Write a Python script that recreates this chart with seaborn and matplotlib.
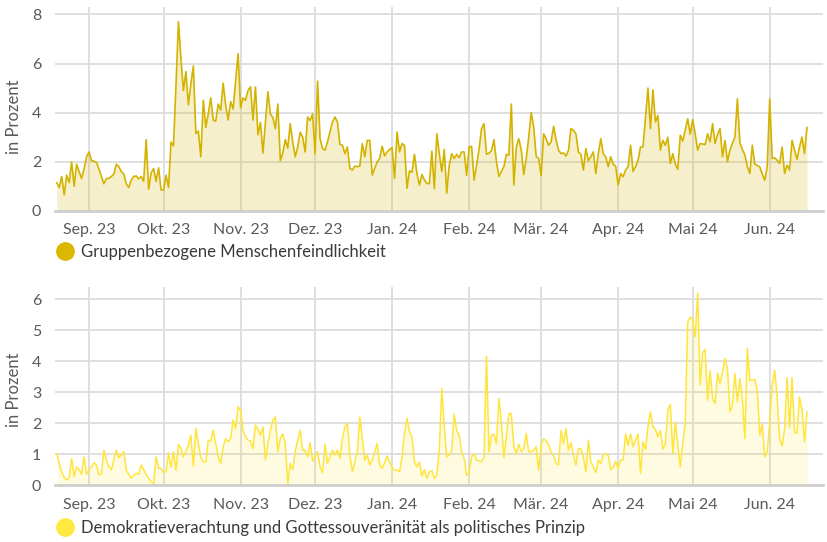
import matplotlib
matplotlib.use("Agg")
import matplotlib.pyplot as plt
from matplotlib.lines import Line2D
import seaborn as sns
import pandas as pd

# daily shares in percent, starting 19.08.2023
start_date = "2023-08-19"

gmf_values = [
    1.15, 0.95, 1.4, 0.65, 1.45, 1.15, 2.0, 1.0, 1.9, 1.6,
    1.32, 1.7, 2.2, 2.4, 2.05, 2.02, 1.97, 1.7, 1.4, 1.1,
    1.32, 1.32, 1.4, 1.5, 1.9, 1.8, 1.6, 1.5, 1.1, 0.95,
    1.25, 1.4, 1.42, 1.3, 1.4, 1.2, 2.9, 0.88, 1.55, 1.72,
    1.2, 1.75, 0.85, 0.85, 1.45, 0.95, 2.8, 2.65, 5.1, 7.7,
    6.2, 4.9, 5.67, 4.32, 5.17, 5.9, 3.14, 3.25, 2.2, 4.5,
    3.4, 3.95, 4.6, 3.7, 3.65, 4.35, 4.1, 5.2, 4.3, 3.7,
    4.45, 4.15, 5.3, 6.4, 4.2, 4.6, 4.5, 4.9, 5.05, 3.7,
    5.05, 3.1, 3.6, 2.35, 3.6, 4.85, 3.95, 3.8, 3.35, 4.35,
    2.05, 2.35, 2.9, 2.55, 3.55, 2.8, 2.2, 2.6, 3.2, 3.0,
    2.4, 3.82, 3.68, 3.95, 2.33, 5.28, 2.94, 2.54, 2.47, 2.81,
    3.21, 3.62, 3.82, 3.62, 2.71, 2.67, 2.33, 2.6, 1.73, 1.66,
    1.82, 1.8, 1.82, 2.74, 2.2, 2.87, 2.87, 1.46, 1.73, 2.0,
    2.13, 2.63, 2.24, 2.4, 2.5, 2.58, 1.32, 3.21, 2.4, 2.74,
    2.67, 0.92, 1.63, 1.57, 2.3, 1.52, 1.05, 1.48, 1.26, 1.12,
    1.1, 2.43, 0.9, 3.14, 2.33, 1.6, 2.5, 0.72, 1.86, 2.33,
    2.13, 2.3, 2.16, 2.4, 2.4, 1.45, 2.6, 2.63, 1.25, 1.85,
    2.5, 3.35, 3.55, 2.3, 2.35, 2.45, 2.9, 2.0, 1.4, 1.6,
    1.8, 2.3, 2.27, 4.35, 1.05, 2.6, 2.94, 2.47, 1.48, 2.13,
    3.0, 4.0, 3.41, 2.22, 2.13, 1.43, 3.14, 2.94, 2.67, 2.81,
    3.44, 2.9, 2.47, 2.33, 2.36, 2.23, 2.47, 3.35, 3.28, 3.14,
    2.4, 2.3, 1.66, 2.54, 2.04, 2.2, 2.4, 1.52, 2.33, 2.94,
    2.33, 2.2, 1.8, 2.2, 1.9, 1.82, 1.05, 1.52, 1.39, 1.66,
    1.8, 2.67, 1.6, 1.8, 2.06, 2.6, 2.6, 3.82, 5.0, 3.35,
    4.93, 3.62, 3.89, 2.47, 2.87, 2.67, 3.0, 1.93, 2.33, 1.9,
    1.69, 3.08, 2.84, 3.3, 3.75, 3.12, 3.72, 3.14, 2.47, 2.74,
    2.72, 2.7, 3.14, 2.81, 3.55, 2.74, 3.1, 3.35, 2.2, 2.87,
    2.0, 2.47, 2.75, 3.0, 4.56, 2.77, 2.5, 2.27, 1.8, 1.52,
    2.67, 1.9, 1.85, 1.79, 1.5, 1.25, 1.79, 4.56, 2.13, 2.16,
    2.06, 1.93, 2.6, 1.52, 1.86, 1.66, 2.87, 2.47, 2.1, 2.6,
    3.0, 2.33, 3.4,
]

demo_values = [
    1.02, 0.7, 0.43, 0.25, 0.16, 0.25, 0.86, 0.27, 0.59, 0.5,
    0.35, 0.91, 0.35, 0.48, 0.59, 0.72, 0.65, 0.32, 0.38, 1.13,
    0.81, 0.59, 0.5, 0.81, 1.13, 0.89, 0.97, 1.08, 0.48, 0.35,
    0.22, 0.32, 0.38, 0.35, 0.65, 0.5, 0.35, 0.22, 0.11, 0.05,
    0.91, 0.54, 0.54, 0.41, 0.43, 1.04, 0.57, 1.08, 0.48, 1.32,
    1.18, 0.91, 1.11, 1.29, 1.61, 0.61, 1.83, 1.34, 0.91, 0.75,
    0.75, 1.45, 1.43, 1.77, 1.34, 0.91, 0.7, 1.24, 1.5, 1.4,
    1.5, 2.1, 1.83, 2.53, 2.42, 1.77, 1.56, 1.45, 1.43, 1.18,
    1.94, 1.8, 1.61, 1.88, 0.81, 1.34, 1.77, 2.1, 2.2, 1.08,
    1.5, 1.65, 1.35, 0.05, 0.7, 0.5, 1.08, 1.45, 1.77, 1.13,
    1.13, 0.91, 1.37, 0.78, 0.91, 1.08, 0.59, 0.4, 1.32, 0.7,
    0.91, 1.13, 0.97, 1.13, 0.86, 1.5, 1.88, 1.99, 0.97, 0.43,
    0.75, 1.08, 2.2, 1.5, 0.81, 0.97, 0.65, 0.81, 1.08, 1.34,
    0.65, 0.54, 0.72, 0.94, 0.75, 0.57, 0.48, 0.48, 0.43, 0.9,
    1.67, 2.15, 1.72, 1.56, 0.75, 0.59, 0.75, 0.29, 0.5, 0.22,
    0.43, 0.46, 0.22, 0.32, 1.13, 3.12, 1.88, 0.91, 0.97, 1.13,
    2.29, 1.77, 1.61, 1.08, 0.86, 0.32, 0.4, 0.91, 1.02, 0.81,
    0.78, 0.75, 0.91, 4.16, 1.08, 1.61, 1.65, 1.34, 2.8, 2.04,
    0.88, 1.56, 2.31, 2.31, 1.26, 1.02, 1.32, 1.08, 1.18, 1.67,
    1.08, 1.08, 1.13, 1.24, 0.48, 1.3, 1.5, 1.43, 1.29, 1.08,
    0.94, 0.7, 0.65, 1.77, 1.34, 1.83, 1.13, 1.37, 0.97, 0.65,
    1.18, 1.18, 0.91, 0.43, 1.45, 0.75, 0.59, 0.4, 0.81, 0.7,
    1.0, 1.0, 0.97, 0.5, 0.57, 0.78, 0.54, 0.81, 0.81, 1.65,
    1.29, 1.65, 1.24, 1.45, 1.65, 0.38, 1.4, 1.15, 1.88, 2.37,
    1.88, 1.8, 1.56, 1.77, 1.16, 1.34, 2.42, 2.61, 1.02, 2.04,
    1.3, 0.59, 1.34, 2.0, 5.27, 5.43, 5.34, 4.78, 6.2, 3.23,
    4.27, 4.39, 2.74, 3.71, 2.8, 2.63, 3.62, 3.28, 3.66, 4.09,
    3.76, 2.37, 2.58, 3.6, 2.69, 3.44, 2.8, 1.5, 4.41, 3.39,
    3.39, 3.41, 3.06, 1.61, 1.97, 0.91, 1.08, 2.04, 3.23, 3.71,
    2.85, 1.5, 1.26, 1.83, 3.47, 1.86, 3.47, 1.72, 1.67, 2.85,
    2.42, 1.4, 2.37,
]

month_starts = ["2023-09-01", "2023-10-01", "2023-11-01", "2023-12-01", "2024-01-01",
                "2024-02-01", "2024-03-01", "2024-04-01", "2024-05-01", "2024-06-01"]
month_labels = ["Sep. 23", "Okt. 23", "Nov. 23", "Dez. 23", "Jan. 24",
                "Feb. 24", "Mär. 24", "Apr. 24", "Mai 24", "Jun. 24"]

gmf_label = "Gruppenbezogene Menschenfeindlichkeit"
demo_label = "Demokratieverachtung und Gottessouveränität als politisches Prinzip"

dates = pd.date_range(start_date, periods=len(gmf_values), freq="D")
df = pd.DataFrame({"Datum": dates, "gmf": gmf_values, "demo": demo_values})

sns.set_style("white")
plt.rcParams["font.family"] = ["Lato", "DejaVu Sans"]

fig = plt.figure(figsize=(8.27, 5.42), dpi=100)
ax1 = fig.add_axes([0.0665, 0.611, 0.9285, 0.376])
ax2 = fig.add_axes([0.0665, 0.105, 0.9285, 0.3655])

x_min = pd.Timestamp(start_date) - pd.Timedelta(days=0.7)
x_max = pd.Timestamp(start_date) + pd.Timedelta(days=308.4)


def draw_panel(ax, col, line_color, fill_alpha, ymax, yticks, lw):
    sns.lineplot(data=df, x="Datum", y=col, ax=ax, color=line_color, linewidth=lw)
    ax.fill_between(df["Datum"], df[col], 0, color=line_color, alpha=fill_alpha, linewidth=0)
    ax.set_xlim(x_min, x_max)
    ax.set_ylim(0, ymax)
    ax.set_yticks(yticks)
    ax.set_xticks(pd.to_datetime(month_starts))
    ax.set_xticklabels(month_labels)
    ax.grid(True, color="#dcdcdc", linewidth=1.3)
    ax.set_axisbelow(True)
    for s in ["top", "right", "left"]:
        ax.spines[s].set_visible(False)
    ax.spines["bottom"].set_color("#cfcfcf")
    ax.spines["bottom"].set_linewidth(2)
    ax.tick_params(axis="both", length=0, labelsize=11.5, labelcolor="#5a5a5a")
    ax.tick_params(axis="x", pad=9)
    ax.tick_params(axis="y", pad=10)
    ax.set_xlabel("")
    ax.set_ylabel("in Prozent", fontsize=12, color="#5a5a5a")


draw_panel(ax1, "gmf", "#d4b300", 0.2, 8.3, [0, 2, 4, 6, 8], 1.2)
draw_panel(ax2, "demo", "#ffe53b", 0.15, 6.4, [0, 1, 2, 3, 4, 5, 6], 1.1)
ax1.yaxis.set_label_coords(-0.043, 0.46)
ax2.yaxis.set_label_coords(-0.043, 0.48)

# legends under each panel
for color, label, y in [("#dcb700", gmf_label, 0.535), ("#ffe840", demo_label, 0.026)]:
    handle = Line2D([0], [0], marker="o", linestyle="none", markersize=12.5,
                    markerfacecolor=color, markeredgecolor=color)
    fig.legend(handles=[handle], labels=[label], loc="center left",
               bbox_to_anchor=(0.068, y), frameon=False, handlelength=1.0,
               handletextpad=0.5, borderpad=0, borderaxespad=0, fontsize=12,
               labelcolor="#3a3a3a")

fig.savefig("out.png", dpi=100)
